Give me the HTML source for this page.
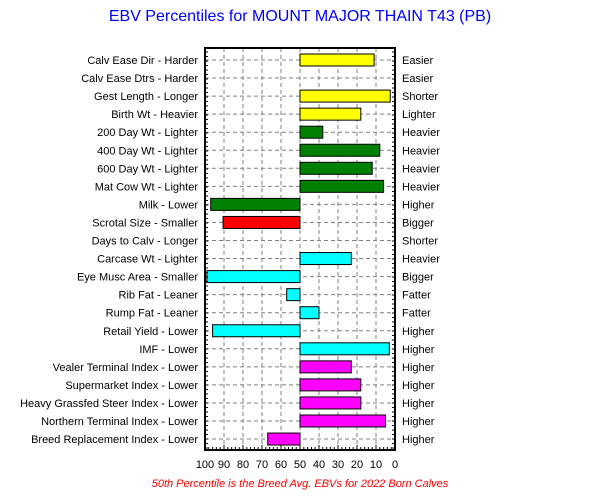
<!DOCTYPE html>
<html><head><meta charset="utf-8"><style>
body{margin:0;background:#fff;font-family:"Liberation Sans",sans-serif}
svg text{font-family:"Liberation Sans",sans-serif}
</style></head><body>
<svg id="c" width="600" height="495"></svg>
<script>
const traits=["Calv Ease Dir - Harder","Calv Ease Dtrs - Harder","Gest Length - Longer","Birth Wt - Heavier","200 Day Wt - Lighter","400 Day Wt - Lighter","600 Day Wt - Lighter","Mat Cow Wt - Lighter","Milk - Lower","Scrotal Size - Smaller","Days to Calv - Longer","Carcase Wt - Lighter","Eye Musc Area - Smaller","Rib Fat - Leaner","Rump Fat - Leaner","Retail Yield - Lower","IMF - Lower","Vealer Terminal Index - Lower","Supermarket Index - Lower","Heavy Grassfed Steer Index - Lower","Northern Terminal Index - Lower","Breed Replacement Index - Lower"];
const rightLabels=["Easier","Easier","Shorter","Lighter","Heavier","Heavier","Heavier","Heavier","Higher","Bigger","Shorter","Heavier","Bigger","Fatter","Fatter","Higher","Higher","Higher","Higher","Higher","Higher","Higher"];
const percentiles=[11,null,2.5,18,38,8,12,6,97,90.5,null,23,99,57,40,96,3,23,18,18,5,67];
const colors=["#ffff00","#ffff00","#ffff00","#ffff00","#008000","#008000","#008000","#008000","#008000","#ff0000","#ff0000","#00ffff","#00ffff","#00ffff","#00ffff","#00ffff","#00ffff","#ff00ff","#ff00ff","#ff00ff","#ff00ff","#ff00ff"];
const xTicks=[100,90,80,70,60,50,40,30,20,10,0];
const L=205,R=395,T=48,B=450,y0=60,dy=18.05;
const x=v=>R-(v/100)*(R-L);
const y=i=>y0+i*dy;
const NS="http://www.w3.org/2000/svg";
const svg=document.getElementById('c');
function mk(t,a,txt){const e=document.createElementNS(NS,t);for(const k in a)e.setAttribute(k,a[k]);if(txt!=null)e.textContent=txt;svg.appendChild(e);return e;}
let e;
e=mk('text',{x:300,y:21,'text-anchor':'middle','font-size':16,fill:'#0000ff'},'EBV Percentiles for MOUNT MAJOR THAIN T43 (PB)');


xTicks.forEach(v=>{
 e=mk('line',{x1:x(v),x2:x(v),y1:T,y2:B,stroke:'#808080','stroke-dasharray':'4,3'});
 
 
 e=mk('text',{x:x(v),y:468,'text-anchor':'middle','font-size':11},String(v));
 
 
});
for(let v=0;v<=100;v+=2){
 e=mk('line',{x1:x(v),x2:x(v),y1:B,y2:B-(v%10?3:5),stroke:'#000'});
 
 
}
traits.forEach((t,i)=>{
 const yy=y(i);
 e=mk('line',{x1:L,x2:R,y1:yy,y2:yy,stroke:'#808080','stroke-dasharray':'4,3'});
 
 
 e=mk('text',{x:198,y:yy+4,'text-anchor':'end','font-size':11},t);
 
 
 e=mk('text',{x:402,y:yy+4,'font-size':11},rightLabels[i]);
 
 
 const p=percentiles[i];
 if(p!=null){
  const a=x(50),b=x(p);
  e=mk('rect',{x:Math.min(a,b),y:yy-6,width:Math.abs(b-a),height:12,fill:colors[i],stroke:'#000','stroke-width':1});
  
  
 }
});
for(let yy=T+4;yy<B;yy+=4.5){
 e=mk('line',{x1:L,x2:L+3,y1:yy,y2:yy,stroke:'#000'});
 
 
 e=mk('line',{x1:R-3,x2:R,y1:yy,y2:yy,stroke:'#000'});
 
 
}
e=mk('rect',{x:L,y:T,width:R-L,height:B-T,fill:'none',stroke:'#000','stroke-width':2});


e=mk('text',{x:300,y:487,'text-anchor':'middle','font-size':11,'font-style':'italic',fill:'#ff0000'},'50th Percentile is the Breed Avg. EBVs for 2022 Born Calves');


</script>
</body></html>
